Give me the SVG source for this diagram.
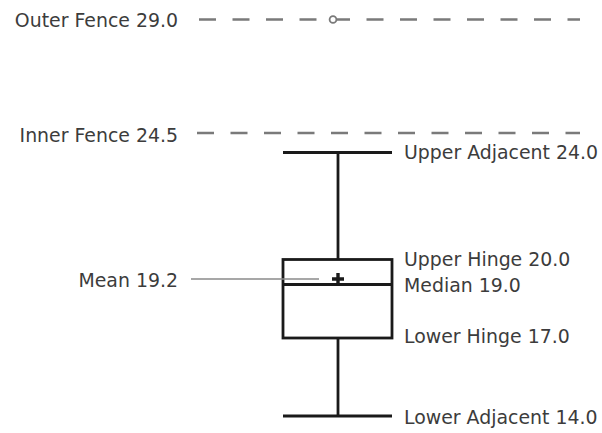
<svg xmlns="http://www.w3.org/2000/svg" width="602" height="433" viewBox="0 0 602 433">
<style>
  text { font-family: "DejaVu Sans", Verdana, sans-serif; font-size: 18.9px; fill: #3c3c3c; }
  .l { text-anchor: end; }
  .fence { stroke: #7a7a7a; stroke-width: 2.4; fill: none; stroke-dasharray: 17 16.5; }
  .box { stroke: #1a1a1a; stroke-width: 2.8; fill: none; }
  .lead { stroke: #8a8a8a; stroke-width: 1.6; fill: none; }
</style>
<rect width="602" height="433" fill="#ffffff"/>
<g id="outer-fence">
  <line class="fence" x1="199" y1="19.5" x2="580" y2="19.5"/>
  <circle cx="333" cy="19.5" r="3.4" fill="#ffffff" stroke="#7a7a7a" stroke-width="1.8"/>
  <text class="l" x="178" y="27">Outer Fence 29.0</text>
</g>
<g id="inner-fence">
  <line class="fence" x1="197" y1="133" x2="580" y2="133"/>
  <text class="l" x="178" y="141.5">Inner Fence 24.5</text>
</g>
<g id="upper-adjacent">
  <line class="box" x1="283" y1="152.5" x2="392" y2="152.5"/>
  <text x="404" y="159">Upper Adjacent 24.0</text>
</g>
<g id="box">
  <rect class="box" x="283" y="259.5" width="109" height="78.5"/>
  <line class="box" x1="283" y1="284.5" x2="392" y2="284.5"/>
  <text x="404" y="266">Upper Hinge 20.0</text>
  <text x="404" y="292">Median 19.0</text>
  <text x="404" y="343">Lower Hinge 17.0</text>
</g>
<g id="mean">
  <path d="M332 279 H344 M338 273 V285" stroke="#1a1a1a" stroke-width="3.4" fill="none"/>
  <text class="l" x="178" y="286.5">Mean 19.2</text>
</g>
<g id="lower-adjacent">
  <line class="box" x1="283" y1="416" x2="392" y2="416"/>
  <text x="404" y="424">Lower Adjacent 14.0</text>
</g>
<g id="connectors">
  <line class="box" x1="338" y1="152.5" x2="338" y2="259.5"/>
  <line class="box" x1="338" y1="338" x2="338" y2="416"/>
  <line class="lead" x1="191" y1="279" x2="319" y2="279"/>
</g>
</svg>
